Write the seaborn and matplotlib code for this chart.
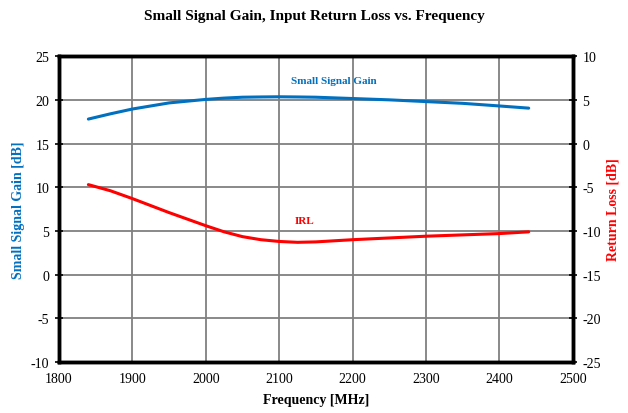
import matplotlib
matplotlib.use("Agg")
import matplotlib.pyplot as plt
import seaborn as sns
import pandas as pd

freq = [1840, 1870, 1900, 1950, 2000, 2025, 2050, 2075, 2100, 2125, 2150, 2200, 2250, 2300, 2350, 2400, 2440]
gain = [17.8, 18.4, 18.95, 19.65, 20.05, 20.2, 20.3, 20.33, 20.35, 20.33, 20.3, 20.15, 20.0, 19.8, 19.6, 19.3, 19.05]
irl = [-4.7, -5.4, -6.3, -7.9, -9.4, -10.1, -10.65, -11.0, -11.2, -11.3, -11.25, -11.0, -10.8, -10.6, -10.45, -10.3, -10.1]

sns.set_theme(style="white")
plt.rcParams['font.family'] = ['Liberation Serif', 'DejaVu Serif']
plt.rcParams['axes.unicode_minus'] = False
plt.rcParams['text.color'] = 'black'

blue = "#0070C0"
red = "#FF0000"

fig = plt.figure(figsize=(6.28, 4.14), dpi=100)
ax = fig.add_axes([0.094, 0.123, 0.818, 0.739])
ax2 = ax.twinx()

df = pd.DataFrame({"freq": freq, "gain": gain, "irl": irl})
sns.lineplot(data=df, x="freq", y="gain", ax=ax, color=blue, lw=2.2)
sns.lineplot(data=df, x="freq", y="irl", ax=ax2, color=red, lw=2.2)

ax.set_xlim(1800, 2500)
ax.set_ylim(-10, 25)
ax2.set_ylim(-25, 10)
ax.set_xticks(range(1800, 2501, 100))
ax.set_yticks(range(-10, 26, 5))
ax2.set_yticks(range(-25, 11, 5))
ax.grid(True, color="#808080", lw=1.3)
ax.set_axisbelow(True)

for a in (ax, ax2):
    for s in a.spines.values():
        s.set_color("black")
        s.set_linewidth(2.5)
    a.tick_params(axis="both", labelsize=10, colors="black", direction="inout",
                  length=6, width=1.2, pad=4)

ax.set_xlabel("Frequency [MHz]", fontsize=10, fontweight="bold", labelpad=6, color="black")
ax.set_ylabel("Small Signal Gain [dB]", fontsize=10, fontweight="bold", color=blue, labelpad=4)
ax2.set_ylabel("Return Loss [dB]", fontsize=10, fontweight="bold", color=red, labelpad=4)

ax.text(2175, 22.2, "Small Signal Gain", color=blue, fontsize=8, fontweight="bold",
        ha="center", va="center")
ax2.text(2135, -8.8, "IRL", color=red, fontsize=8, fontweight="bold",
         ha="center", va="center")

fig.suptitle("Small Signal Gain, Input Return Loss vs. Frequency", fontsize=11,
             fontweight="bold", y=0.975, color="black")

fig.savefig("out.png", dpi=100)
